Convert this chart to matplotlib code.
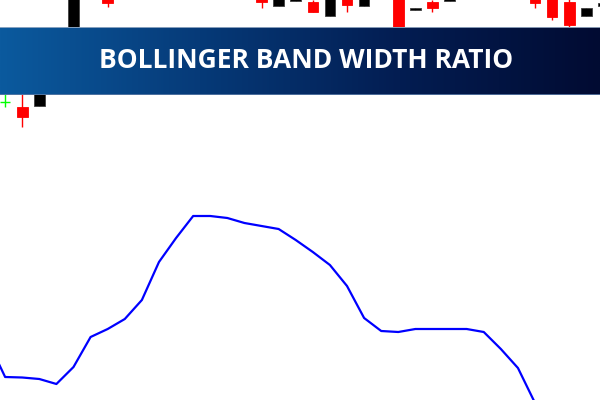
import matplotlib
matplotlib.use('Agg')
import matplotlib.pyplot as plt
import numpy as np
from matplotlib.colors import LinearSegmentedColormap

# price candles visible around the banner
bar_idx = [0, 1, 2, 4, 6, 15, 16, 17, 18, 19, 20, 21, 23, 24, 25, 26, 31, 32, 33, 34, 35]
opens   = [38, 33, 34, 100, 145, 145, 134, 139, 138, 124, 146, 134, 145, 130, 138, 139, 146, 145, 138, 124, 134]
highs   = [50, 50, 52, 155, 148, 148, 145, 146, 140, 145, 148, 147, 148, 132, 140, 146, 148, 148, 141, 132, 137]
lows    = [33, 13, 34, 100, 133, 132, 134, 139, 128, 124, 128, 134, 98, 130, 128, 139, 132, 120, 113, 124, 134]
closes  = [38, 23, 50, 150, 137, 138, 143, 144, 128, 142, 135, 145, 100, 132, 132, 144, 137, 123, 115, 132, 137]

# bollinger band width ratio, one value per bar from -1
bbw_idx = list(range(-1, 33))
bbw = [59, 23, 22.5, 21, 16, 33, 63, 71, 81, 100, 138, 162, 184, 184, 182, 177, 174, 171,
       160, 148, 135, 114, 82, 69, 68, 71, 71, 71, 71, 68, 51, 32, -3, -30]

title = 'BOLLINGER BAND WIDTH RATIO'

fig = plt.figure(figsize=(6, 4), dpi=100)
fig.patch.set_facecolor('white')
xlim = (-0.3, 34.8)

# price window (top part)
ax_p = fig.add_axes([0, 0.65, 1, 0.35], zorder=1)
ax_p.set_xlim(*xlim)
ax_p.set_ylim(0, 140)
ax_p.axis('off')
for x, o, h, l, c in zip(bar_idx, opens, highs, lows, closes):
    if c == o:
        col = '#00ff00'
        ax_p.vlines(x, l, h, color=col, linewidth=1)
        ax_p.hlines(c, x - 0.3, x + 0.3, color=col, linewidth=1)
        continue
    col = '#ff0000' if c < o else 'black'
    edge = '#ff0000' if c < o else '#404040'
    ax_p.vlines(x, l, h, color=col, linewidth=1, zorder=1)
    ax_p.bar(x, abs(c - o), bottom=min(o, c), width=0.62, color=col,
             edgecolor=edge, linewidth=0.6, zorder=2)

# indicator window (bottom part)
ax_i = fig.add_axes([0, 0, 1, 0.65], zorder=1)
ax_i.set_xlim(*xlim)
ax_i.set_ylim(0, 260)
ax_i.axis('off')
ax_i.plot(bbw_idx, bbw, color='#0000ff', linewidth=1.6)

# title banner with horizontal gradient
ax_b = fig.add_axes([0, 305 / 400, 1, 68 / 400], zorder=3)
cmap = LinearSegmentedColormap.from_list('banner', ['#0b5a9e', '#063a78', '#031d52', '#010b32'])
grad = np.linspace(0, 1, 256).reshape(1, -1)
ax_b.imshow(grad, cmap=cmap, aspect='auto', extent=(0, 1, 0, 1))
ax_b.set_xlim(0, 1)
ax_b.set_ylim(0, 1)
ax_b.axhline(0.993, color='#9fb2c9', linewidth=1.2)
ax_b.axhline(0.007, color='#5a7aa6', linewidth=1.2)
ax_b.axis('off')
ax_b.text(0.51, 0.5, title, color='white', fontsize=19, fontweight='bold',
          family='Open Sans', ha='center', va='center')

fig.savefig('out.png', dpi=100)
